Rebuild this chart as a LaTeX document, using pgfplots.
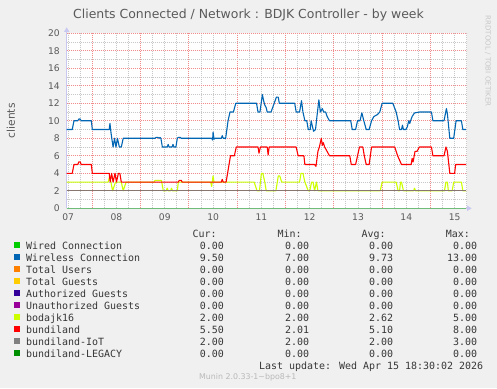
\documentclass[border=0pt]{standalone}
\usepackage{pgfplots}
\pgfplotsset{compat=1.18}
\usepackage{fontspec}
\setmainfont{DejaVu Sans}
\newfontfamily\monofont{DejaVu Sans Mono}
\usetikzlibrary{arrows.meta}
\definecolor{bgc}{HTML}{F0F0F0}
\definecolor{axc}{RGB}{200,200,240}
\definecolor{mgc}{RGB}{240,140,140}
\definecolor{ngc}{RGB}{200,200,200}
\definecolor{tcol}{RGB}{90,90,90}
\definecolor{lcol}{RGB}{55,55,55}
\definecolor{cwired}{HTML}{00CC00}
\definecolor{cwl}{HTML}{0066B3}
\definecolor{cusers}{HTML}{FF8000}
\definecolor{cguests}{HTML}{FFCC00}
\definecolor{cauth}{HTML}{330099}
\definecolor{cunauth}{HTML}{990099}
\definecolor{cboda}{HTML}{CCFF00}
\definecolor{cbund}{HTML}{FF0000}
\definecolor{ciot}{HTML}{808080}
\definecolor{clegacy}{HTML}{008F00}
\definecolor{ciotline}{RGB}{135,118,112}
\definecolor{czero}{RGB}{110,188,122}
\begin{document}
\begin{tikzpicture}[x=1bp,y=1bp]
\useasboundingbox (0,0) rectangle (497,388);
\fill[bgc] (0,0) rectangle (497,388);
\begin{axis}[
  at={(66.7bp,179.7bp)}, anchor=south west,
  width=400bp, height=175bp, scale only axis,
  xmin=-0.03, xmax=8.25, ymin=0, ymax=20,
  clip=false,
  axis background/.style={fill=white},
  axis x line*=bottom, axis y line*=left,
  axis line style={draw=axc, line width=0.9bp},
  x axis line style={-{Triangle[width=5bp,length=4.5bp]}, shorten >=-5bp},
  y axis line style={-{Triangle[width=5bp,length=4.5bp]}, shorten >=-6bp},
  ytick={0,2,...,20}, minor ytick={1,3,...,19},
  xtick={0.5,1.5,...,7.5}, xticklabels={},
  minor xtick={0,0.25,0.75,1,1.25,1.75,2,2.25,2.75,3,3.25,3.75,4,4.25,4.75,5,5.25,5.75,6,6.25,6.75,7,7.25,7.75,8,8.25},
  extra x ticks={0,1,2,3,4,5,6,7,8},
  extra x tick labels={07,08,09,10,11,12,13,14,15},
  extra x tick style={grid=none},
  grid=both,
  major grid style={draw=mgc, dash pattern=on 1bp off 1bp, line width=1bp},
  minor grid style={draw=ngc, dash pattern=on 1bp off 1bp, line width=0.9bp},
  major tick length=0pt, minor tick length=0pt,
  /pgf/number format/assume math mode=true,
  tick label style={font=\fontsize{9.2}{10}\selectfont, text=tcol},
  yticklabel style={inner sep=0pt, xshift=-6.7bp},
  xticklabel style={inner sep=0pt, yshift=-5bp},
  ylabel={clients},
  every axis y label/.style={at={([xshift=-55.7bp]rel axis cs:0,0.5)}, anchor=center, rotate=90, font=\fontsize{10.7}{12}\selectfont, text=tcol},
  every axis plot/.append style={line width=1.1bp, line join=round, mark=none},
]
% bodajk16
\addplot[cboda] coordinates {
(-0.03,3) (0.83,3) (0.86,3.7) (0.92,2) (0.98,3) (1.1,3) (1.14,2) (1.2,3) (1.78,3) (1.8,3.2) (1.93,3.2) (1.97,2) (2.03,2) (2.05,2.3) (2.07,2) (2.12,2) (2.14,2.3) (2.16,2) (2.26,2) (2.28,3) (2.95,3) (2.97,2.5) (3.0,3.7) (3.02,3) (3.85,3) (3.91,2) (3.96,2) (4.0,4) (4.03,4) (4.07,3) (4.1,2) (4.3,2) (4.35,3.7) (4.38,3.7) (4.42,3) (4.79,3) (4.82,4) (4.86,4) (4.9,3) (4.97,2) (5.0,2) (5.04,3) (5.07,3) (5.1,2) (5.14,3) (5.17,2) (6.46,2) (6.5,3) (6.79,3) (6.83,2) (6.86,2) (6.88,3) (6.9,3) (6.94,2) (7.15,2) (7.17,2.3) (7.19,2) (7.79,2) (7.82,3) (7.85,3) (7.87,2) (7.95,2) (7.98,3) (8.14,3) (8.17,2) (8.24,2)
};
% Wireless
\addplot[cwl] coordinates {
(-0.03,9) (0.085,9) (0.12,10) (0.2,10) (0.22,10.2) (0.25,10.2) (0.27,10) (0.48,10) (0.5,9) (0.85,9) (0.865,9.7) (0.89,8.5) (0.93,7) (0.96,8) (0.99,7) (1.02,8) (1.06,7) (1.1,7) (1.14,8) (1.8,8) (1.82,8.1) (1.86,8.1) (1.88,8) (1.9,8.1) (1.92,8) (1.95,7) (2.05,7) (2.07,7.3) (2.09,7) (2.15,7) (2.17,7.3) (2.19,7) (2.23,7) (2.26,8) (2.28,8.1) (2.32,8.1) (2.34,8) (2.97,8) (2.99,7.8) (3.0,8.7) (3.02,7.9) (3.04,8) (3.17,8) (3.19,8.3) (3.21,8) (3.26,8) (3.31,10) (3.35,11) (3.42,11) (3.47,12) (3.9,12) (3.93,11) (3.97,11) (4.02,13) (4.05,12.2) (4.07,11.8) (4.1,11.5) (4.12,11) (4.2,11) (4.31,12.7) (4.35,12.7) (4.37,12) (4.69,12) (4.72,11) (4.79,11) (4.83,12.3) (4.86,11) (4.9,10) (4.94,10) (4.97,9) (5.01,9) (5.03,10) (5.05,9.5) (5.08,8.8) (5.12,9) (5.15,10.5) (5.19,12.4) (5.22,11) (5.26,11.4) (5.29,11) (5.33,11) (5.36,10.5) (5.41,10) (5.85,10) (5.88,9) (5.95,9) (5.99,10) (6.04,10) (6.08,10.9) (6.12,10) (6.17,9) (6.23,9) (6.28,10) (6.33,10.5) (6.4,10.7) (6.45,11) (6.5,12) (6.72,12) (6.79,11) (6.83,10) (6.86,9) (6.9,9) (6.92,9.5) (6.94,9) (6.99,9) (7.02,9.3) (7.05,10) (7.07,9.7) (7.12,10.5) (7.17,10.9) (7.27,11) (7.52,11) (7.55,10) (7.78,10) (7.83,11.4) (7.85,10.8) (7.9,8) (7.98,8) (8.03,10) (8.14,10) (8.17,9) (8.24,9)
};
% bundiland
\addplot[cbund] coordinates {
(-0.03,4) (0.085,4) (0.12,5) (0.2,5) (0.22,5.3) (0.25,5.3) (0.27,5) (0.48,5) (0.5,4) (0.85,4) (0.87,3) (0.9,4) (0.93,3) (0.97,4) (1.0,3) (1.04,4) (1.07,4) (1.1,3) (2.28,3) (2.3,3.2) (2.34,3.2) (2.36,3) (3.17,3) (3.19,3.3) (3.21,3) (3.27,3) (3.33,5) (3.36,6) (3.44,6) (3.48,7) (3.93,7) (3.95,6.3) (3.98,7) (4.12,7) (4.14,6.1) (4.16,7) (4.72,7) (4.76,6) (4.88,6) (4.9,5) (5.1,5) (5.13,4.8) (5.17,6.5) (5.2,7) (5.24,8) (5.26,7.2) (5.28,7.5) (5.31,7) (5.36,6.5) (5.41,6) (5.83,6) (5.86,5) (5.95,5) (5.99,6) (6.03,7) (6.1,7) (6.13,6) (6.17,5) (6.23,5) (6.28,7) (6.76,7) (6.82,6) (6.9,5) (7.1,5) (7.12,5.7) (7.14,5.3) (7.18,6.5) (7.22,6.5) (7.27,7) (7.52,7) (7.55,6) (7.78,6) (7.82,7) (7.85,6.5) (7.9,4) (8.0,4) (8.02,5) (8.24,5)
};
% bundiland-IoT
\addplot[ciotline] coordinates {(-0.03,2) (8.24,2)};
% Wired / LEGACY at zero
\addplot[czero] coordinates {(-0.03,0) (8.24,0)};
\end{axis}
% title
\node[font=\fontsize{12.5}{14}\selectfont, text=tcol, anchor=base] at (248.5,369.7) {Clients Connected / Network : BDJK Controller - by week};
% rrdtool credit
\node[font=\fontsize{7.1}{8}\selectfont, text={rgb,255:red,200;green,200;blue,200}, rotate=-90, anchor=center] at (488,327) {RRDTOOL / TOBI OETIKER};
% legend
\tikzset{lg/.style={font=\monofont\fontsize{10}{12}\selectfont, text=lcol, inner sep=0pt}}
\node[lg, anchor=base east] at (216.7,151) {Cur:};
\node[lg, anchor=base east] at (301.7,151) {Min:};
\node[lg, anchor=base east] at (385.7,151) {Avg:};
\node[lg, anchor=base east] at (470,151) {Max:};
\foreach \nm/\cl/\va/\vb/\vc/\vd [count=\i from 0] in {
 Wired Connection/cwired/0.00/0.00/0.00/0.00,
 Wireless Connection/cwl/9.50/7.00/9.73/13.00,
 Total Users/cusers/0.00/0.00/0.00/0.00,
 Total Guests/cguests/0.00/0.00/0.00/0.00,
 Authorized Guests/cauth/0.00/0.00/0.00/0.00,
 Unauthorized Guests/cunauth/0.00/0.00/0.00/0.00,
 bodajk16/cboda/2.00/2.00/2.62/5.00,
 bundiland/cbund/5.50/2.01/5.10/8.00,
 bundiland-IoT/ciot/2.00/2.00/2.00/3.00,
 bundiland-LEGACY/clegacy/0.00/0.00/0.00/0.00}{
  \pgfmathsetmacro\yb{388-249-12*\i}
  \fill[\cl] (14,\yb+0.7) rectangle (20,\yb+6.7);
  \node[lg, anchor=base west] at (26,\yb) {\nm};
  \node[lg, anchor=base east] at (224,\yb) {\va};
  \node[lg, anchor=base east] at (309.3,\yb) {\vb};
  \node[lg, anchor=base east] at (393.3,\yb) {\vc};
  \node[lg, anchor=base east] at (477.3,\yb) {\vd};
}
\node[lg, anchor=base east] at (483.3,19) {Last update: Wed Apr 15 18:30:02 2026};
\node[font=\fontsize{7.9}{9}\selectfont, text={rgb,255:red,185;green,185;blue,185}, anchor=base, inner sep=0pt] at (247.8,8.5) {Munin 2.0.33-1\textasciitilde bpo8+1};
\end{tikzpicture}
\end{document}
